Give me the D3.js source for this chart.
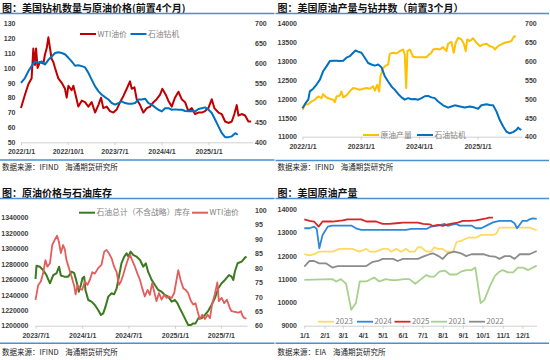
<!DOCTYPE html>
<html><head><meta charset="utf-8">
<script src="https://cdn.jsdelivr.net/npm/d3@7"></script>
<style>html,body{margin:0;padding:0;background:#fff;} svg{display:block;} text{white-space:pre;}</style>
</head><body>
<svg id="c" width="550" height="360"></svg>
<script>
// ---------- Panel 1: 美国钻机数量与原油价格(前置4个月) ----------
const p1Ticks = ["2022-01-01","2022-10-01","2023-07-01","2024-04-01","2025-01-01"];
const p1LeftTicks = [50,60,70,80,90,100,110,120,130];
const p1RightTicks = [400,450,500,550,600,650,700];
const p1Wti = [["2022-01-01",73],["2022-01-24",82],["2022-02-13",89],["2022-03-04",93],["2022-03-14",113],["2022-03-24",102],["2022-03-30",113],["2022-04-08",100],["2022-04-22",104],["2022-05-12",103],["2022-05-21",109],["2022-05-31",113],["2022-06-10",120.6],["2022-06-20",113],["2022-06-29",106],["2022-07-09",104],["2022-07-19",100],["2022-08-07",93],["2022-08-27",90],["2022-09-15",86],["2022-09-25",80],["2022-10-05",88],["2022-10-24",85],["2022-11-03",88],["2022-11-22",79],["2022-12-02",74],["2022-12-22",78],["2023-01-10",77],["2023-01-30",74],["2023-02-18",77],["2023-03-10",70],["2023-03-29",75],["2023-04-14",80],["2023-04-27",73],["2023-05-17",74],["2023-06-05",71],["2023-06-25",70],["2023-07-14",72],["2023-08-03",77],["2023-08-22",81],["2023-09-11",86],["2023-09-30",91],["2023-10-10",86],["2023-10-26",87],["2023-11-08",79],["2023-11-28",75],["2023-12-17",70],["2024-01-06",73],["2024-01-25",74],["2024-02-14",77],["2024-03-04",79],["2024-03-24",82],["2024-04-06",86],["2024-04-26",82],["2024-05-11",78],["2024-05-31",74],["2024-06-19",80],["2024-07-09",84],["2024-07-28",79],["2024-08-17",77],["2024-09-05",71],["2024-09-25",73],["2024-10-14",69],["2024-11-03",70],["2024-11-22",70],["2024-12-12",71],["2024-12-31",73],["2025-01-20",79],["2025-02-04",73],["2025-02-28",70],["2025-03-19",69],["2025-04-08",64],["2025-04-27",63],["2025-05-17",64],["2025-06-01",69],["2025-06-15",75],["2025-06-25",68],["2025-07-14",69],["2025-08-03",68],["2025-08-22",64],["2025-09-07",64]];
const p1Rigs = [["2022-01-01",550],["2022-01-24",562],["2022-02-13",579],["2022-03-04",592],["2022-03-24",604],["2022-04-12",600],["2022-05-02",604],["2022-05-21",596],["2022-06-10",608],["2022-06-29",616],["2022-07-19",625],["2022-08-07",627],["2022-08-27",625],["2022-09-15",622],["2022-10-05",613],["2022-10-24",604],["2022-11-13",593],["2022-12-02",594],["2022-12-22",592],["2023-01-10",589],["2023-01-30",575],["2023-02-18",558],["2023-03-10",541],["2023-03-29",529],["2023-04-18",520],["2023-05-07",514],["2023-05-27",508],["2023-06-15",499],["2023-07-05",495],["2023-07-24",499],["2023-08-13",503],["2023-09-01",499],["2023-09-21",497],["2023-10-10",497],["2023-10-30",499],["2023-11-18",508],["2023-12-08",508],["2023-12-27",510],["2024-01-16",499],["2024-02-04",495],["2024-02-24",488],["2024-03-14",482],["2024-04-03",478],["2024-04-22",486],["2024-05-12",486],["2024-05-31",482],["2024-06-20",483],["2024-07-09",482],["2024-07-29",482],["2024-08-17",479],["2024-09-06",478],["2024-09-25",479],["2024-10-15",478],["2024-11-03",484],["2024-11-23",486],["2024-12-12",488],["2025-01-01",482],["2025-01-20",474],["2025-02-09",457],["2025-02-28",440],["2025-03-20",423],["2025-04-08",413],["2025-04-28",413],["2025-05-17",415],["2025-06-06",423],["2025-06-21",419]];

// ---------- Panel 2: 美国原油产量与钻井数（前置3个月） ----------
const p2Ticks = ["2022-01-01","2023-01-01","2024-01-01","2025-01-01"];
const p2LeftTicks = [11000,11500,12000,12500,13000,13500,14000];
const p2RightTicks = [400,450,500,550,600,650,700];
const p2Output = [["2022-01-01",11710],["2022-01-16",11843],["2022-02-06",11861],["2022-02-26",11932],["2022-03-19",11976],["2022-04-09",12065],["2022-04-30",12021],["2022-05-10",12127],["2022-05-31",12038],["2022-06-21",12003],["2022-07-12",11976],["2022-07-22",11914],["2022-08-02",12065],["2022-08-23",12092],["2022-09-02",12198],["2022-09-13",12038],["2022-10-03",12092],["2022-10-24",12198],["2022-11-14",12287],["2022-12-05",12269],["2022-12-26",12243],["2023-01-16",12269],["2023-02-06",12287],["2023-02-26",12269],["2023-03-19",12331],["2023-03-30",12216],["2023-04-14",12376],["2023-04-26",12198],["2023-05-04",12598],["2023-05-21",12819],["2023-06-06",12882],["2023-06-21",12908],["2023-07-01",13192],["2023-07-22",13219],["2023-08-12",13201],["2023-09-02",13263],["2023-09-23",13308],["2023-10-03",13175],["2023-10-12",12287],["2023-10-20",13263],["2023-11-04",13308],["2023-11-25",13112],["2023-12-15",13104],["2024-01-05",13104],["2024-01-26",13104],["2024-02-16",13104],["2024-03-03",13175],["2024-03-18",13219],["2024-03-29",13308],["2024-04-18",13326],["2024-05-09",13308],["2024-05-30",13370],["2024-06-20",13263],["2024-06-30",13459],["2024-07-21",13512],["2024-08-05",13219],["2024-08-17",13485],["2024-09-01",13618],["2024-09-22",13574],["2024-10-07",13459],["2024-10-19",13263],["2024-10-28",13574],["2024-11-13",13530],["2024-12-04",13601],["2024-12-25",13485],["2025-01-15",13397],["2025-02-05",13441],["2025-02-26",13459],["2025-03-18",13397],["2025-04-08",13370],["2025-04-19",13308],["2025-05-09",13397],["2025-05-30",13441],["2025-06-20",13485],["2025-07-11",13503],["2025-08-01",13530],["2025-08-16",13645],["2025-08-28",13663]];
const p2Rigs = [["2022-01-01",475],["2022-01-16",486],["2022-02-06",498],["2022-02-16",520],["2022-03-09",527],["2022-03-30",538],["2022-04-20",551],["2022-05-10",573],["2022-05-31",586],["2022-06-21",600],["2022-07-12",601],["2022-08-02",601],["2022-08-23",600],["2022-09-13",601],["2022-10-03",609],["2022-10-24",613],["2022-11-14",622],["2022-11-29",628],["2022-12-15",625],["2023-01-05",622],["2023-01-26",609],["2023-02-16",595],["2023-03-09",591],["2023-03-30",588],["2023-04-20",591],["2023-05-10",584],["2023-05-31",560],["2023-06-21",546],["2023-07-12",533],["2023-08-02",524],["2023-08-23",513],["2023-09-13",504],["2023-10-03",498],["2023-10-24",502],["2023-11-14",499],["2023-12-05",500],["2023-12-26",498],["2024-01-16",502],["2024-02-05",507],["2024-02-26",508],["2024-03-18",504],["2024-04-08",502],["2024-04-29",493],["2024-05-30",483],["2024-06-30",477],["2024-07-21",480],["2024-08-11",483],["2024-09-12",480],["2024-10-13",477],["2024-11-13",480],["2024-12-14",477],["2025-01-04",474],["2025-01-25",483],["2025-02-26",486],["2025-03-18",484],["2025-04-08",483],["2025-04-29",467],["2025-05-20",444],["2025-06-10",427],["2025-07-01",413],["2025-07-22",409],["2025-08-11",412],["2025-09-01",418],["2025-09-12",424],["2025-09-22",420],["2025-10-02",418]];

// ---------- Panel 3: 原油价格与石油库存 ----------
const p3Ticks = ["2023-07-01","2024-01-01","2024-07-01","2025-01-01","2025-07-01"];
const p3LeftTicks = [1200000,1220000,1240000,1260000,1280000,1300000,1320000,1340000];
const p3RightTicks = [60,65,70,75,80,85,90,95,100];
const p3Stocks = [["2023-07-01",1260500],["2023-07-05",1277800],["2023-07-18",1276500],["2023-07-31",1272000],["2023-08-13",1265700],["2023-08-27",1255000],["2023-09-09",1265700],["2023-09-22",1268000],["2023-10-02",1276500],["2023-10-09",1265000],["2023-10-22",1263600],["2023-11-07",1263600],["2023-11-20",1270000],["2023-12-01",1268000],["2023-12-10",1257000],["2023-12-19",1244000],["2023-12-27",1252800],["2024-01-02",1261400],["2024-01-09",1263600],["2024-01-14",1246300],["2024-01-25",1233300],["2024-02-07",1231200],["2024-02-20",1226800],["2024-03-04",1220300],["2024-03-15",1213900],["2024-03-24",1216000],["2024-04-02",1224700],["2024-04-13",1237700],["2024-04-26",1242000],["2024-05-06",1240700],["2024-05-16",1248500],["2024-05-25",1263600],["2024-06-04",1280900],["2024-06-15",1289600],["2024-06-24",1293900],["2024-07-01",1289600],["2024-07-10",1296000],["2024-07-20",1291700],["2024-08-02",1289600],["2024-08-16",1285200],["2024-08-29",1276500],["2024-09-08",1280900],["2024-09-17",1270000],["2024-10-01",1259400],["2024-10-14",1252800],["2024-10-27",1246300],["2024-11-09",1244100],["2024-11-22",1239800],["2024-12-05",1237700],["2024-12-19",1231200],["2025-01-01",1233300],["2025-01-11",1229000],["2025-01-20",1222500],["2025-01-27",1218200],["2025-02-09",1209500],["2025-02-22",1200900],["2025-03-05",1200900],["2025-03-14",1203000],["2025-03-23",1203000],["2025-04-03",1209500],["2025-04-16",1209500],["2025-04-29",1213900],["2025-05-10",1218200],["2025-05-25",1226800],["2025-06-07",1235500],["2025-06-21",1248500],["2025-07-04",1255000],["2025-07-17",1259300],["2025-08-02",1265700],["2025-08-12",1263600],["2025-08-19",1259300],["2025-08-25",1270000],["2025-09-05",1280900],["2025-09-21",1283000],["2025-10-04",1288200],["2025-10-10",1289600]];
const p3Wti = [["2023-07-01",68.9],["2023-07-12",74.1],["2023-07-22",75.3],["2023-07-31",78.1],["2023-08-09",82.7],["2023-08-17",80.4],["2023-08-27",81.6],["2023-09-05",87.9],["2023-09-15",89.7],["2023-09-24",91.1],["2023-10-01",89.1],["2023-10-09",85.1],["2023-10-18",87.9],["2023-10-25",86.2],["2023-10-31",82.7],["2023-11-10",79.9],["2023-11-20",77.0],["2023-12-01",73.6],["2023-12-06",70.8],["2023-12-14",74.1],["2023-12-23",72.9],["2024-01-01",72.4],["2024-01-12",75.3],["2024-01-22",74.1],["2024-01-31",75.8],["2024-02-10",78.5],["2024-02-20",78.0],["2024-03-04",79.9],["2024-03-17",81.0],["2024-03-28",85.6],["2024-04-06",86.2],["2024-04-15",85.1],["2024-04-26",83.3],["2024-05-06",80.4],["2024-05-16",78.5],["2024-05-25",74.1],["2024-06-02",75.3],["2024-06-11",77.6],["2024-06-20",80.4],["2024-07-01",83.3],["2024-07-08",84.5],["2024-07-16",82.7],["2024-07-27",80.4],["2024-08-06",78.0],["2024-08-16",75.8],["2024-08-25",72.9],["2024-09-04",70.1],["2024-09-15",72.4],["2024-09-24",70.7],["2024-10-03",74.7],["2024-10-11",71.8],["2024-10-20",68.5],["2024-10-30",71.3],["2024-11-09",69.0],["2024-11-20",70.7],["2024-11-29",69.6],["2024-12-08",70.1],["2024-12-19",69.6],["2024-12-29",71.3],["2025-01-07",75.8],["2025-01-14",79.2],["2025-01-23",75.8],["2025-02-03",72.9],["2025-02-12",72.4],["2025-02-22",71.3],["2025-03-05",68.5],["2025-03-14",67.3],["2025-03-23",67.8],["2025-03-31",65.0],["2025-04-09",62.3],["2025-04-19",63.8],["2025-04-29",62.3],["2025-05-10",63.8],["2025-05-19",62.6],["2025-05-28",67.8],["2025-06-07",70.8],["2025-06-17",75.0],["2025-06-23",68.5],["2025-07-04",69.6],["2025-07-14",67.8],["2025-07-25",69.0],["2025-08-05",66.1],["2025-08-12",65.0],["2025-08-25",64.8],["2025-09-08",64.5],["2025-09-18",65.0],["2025-09-25",63.3],["2025-10-01",62.7],["2025-10-10",62.4]];

// ---------- Panel 4: 美国原油产量 (by year) ----------
const p4Ticks = ["01-01","02-01","03-01","04-01","05-01","06-01","07-01","08-01","09-01","10-01","11-01","12-01"];
const p4LeftTicks = [9000,10000,11000,12000,13000,14000];
const p4Years = ["2023","2024","2025","2021","2022"];
const p4_2023 = [["01-01",12070],["01-09",12020],["01-16",12070],["01-24",12180],["02-13",12180],["02-24",12300],["03-16",12300],["03-26",12180],["04-06",12300],["04-11",12180],["04-21",12180],["05-01",12300],["05-09",12300],["05-14",12180],["05-22",12300],["05-29",12180],["06-06",12300],["06-11",12180],["06-19",12180],["06-24",12370],["06-29",12370],["07-07",12180],["07-14",12180],["07-19",12370],["07-25",12300],["08-01",12300],["08-06",12180],["08-17",12180],["08-22",12585],["09-01",12680],["09-09",12780],["09-21",12780],["09-29",12900],["10-17",12900],["10-22",12950],["10-27",13210],["12-12",13210],["12-23",13100]];
const p4_2024 = [["01-01",13185],["01-09",13185],["01-16",13255],["01-20",13155],["01-24",12327],["01-29",12900],["02-06",13255],["02-13",13300],["03-14",13300],["03-21",13185],["03-29",13115],["04-16",13115],["05-11",13115],["06-06",13115],["06-14",13155],["07-07",13155],["07-14",13255],["07-25",13300],["08-04",13370],["08-09",13285],["08-14",13330],["08-22",13370],["08-27",13300],["09-14",13300],["09-21",13185],["09-29",13185],["10-07",13300],["10-17",13440],["10-27",13500],["11-14",13500],["11-19",13400],["11-23",13185],["12-01",13500],["12-08",13500],["12-12",13570],["12-17",13610],["12-23",13585]];
const p4_2025 = [["01-01",13570],["01-09",13500],["01-16",13475],["01-23",13255],["01-29",13475],["02-13",13475],["03-01",13520],["03-08",13570],["03-21",13570],["03-29",13570],["04-06",13475],["04-21",13475],["05-01",13370],["05-11",13370],["05-22",13400],["06-01",13430],["06-11",13430],["06-24",13430],["07-02",13370],["07-12",13355],["07-17",13285],["07-25",13330],["08-01",13285],["08-09",13355],["08-17",13400],["08-24",13430],["09-01",13500],["09-11",13500],["09-21",13520],["09-29",13570],["10-07",13610],["10-11",13640],["10-17",13640]];
const p4_2021 = [["01-01",10970],["02-13",11000],["02-19",10900],["02-26",11000],["03-06",10800],["03-14",9680],["03-21",9970],["03-27",10900],["04-06",10900],["04-18",11070],["04-26",10900],["05-06",11000],["05-14",10960],["05-22",10960],["06-03",11000],["06-11",11000],["06-20",10800],["06-29",11000],["07-07",11180],["07-12",11110],["07-19",11110],["07-27",11320],["08-04",11370],["08-12",11200],["08-22",11200],["08-29",11320],["09-06",11390],["09-14",11390],["09-20",11495],["09-28",9970],["10-04",10110],["10-12",10680],["10-20",11140],["10-27",11320],["11-01",11390],["11-09",11290],["11-17",11290],["11-24",11495],["12-02",11495],["12-10",11390],["12-23",11580]];
const p4_2022 = [["01-01",11540],["01-09",11780],["01-16",11780],["01-24",11680],["02-03",11680],["02-13",11495],["02-21",11560],["04-06",11560],["04-16",11745],["04-24",11780],["05-01",11870],["05-17",11870],["05-24",11780],["06-01",11870],["06-24",11870],["07-02",11970],["07-12",12070],["07-17",12110],["07-25",12000],["08-01",11870],["08-09",12110],["08-19",12180],["08-29",12110],["09-06",11990],["09-14",12070],["10-02",12070],["10-12",11990],["10-20",11970],["10-27",11870],["11-04",11990],["11-12",11990],["11-19",11870],["11-27",12070],["12-12",12070],["12-23",12210]];

// ================= drawing =================
const svg = d3.select("#c");
const parse = d3.timeParse("%Y-%m-%d");
const parseMD = d3.timeParse("%m-%d");
const NUM = "'Liberation Sans', Arial, sans-serif";
const CJK = "'Noto Sans CJK SC', 'Noto Sans', sans-serif";
const RULE = "#4a8fd2";
const LBL = "#404040";

function frame(x0, x1, title, titleY, topLineY, botLineY, source, sourceY) {
  svg.append("text").attr("x", x0 + 2).attr("y", titleY).text(title)
    .attr("font-family", CJK).attr("font-weight", "bold").attr("font-size", 10).attr("fill", "#111");
  svg.append("line").attr("x1", x0).attr("x2", x1).attr("y1", topLineY).attr("y2", topLineY)
    .attr("stroke", RULE).attr("stroke-width", 1.5);
  svg.append("line").attr("x1", x0).attr("x2", x1).attr("y1", botLineY).attr("y2", botLineY)
    .attr("stroke", RULE).attr("stroke-width", 1.5);
  svg.append("text").attr("x", x0 + 2).attr("y", sourceY).text(source)
    .attr("font-family", CJK).attr("font-size", 7.5).attr("fill", "#222")
    .style("white-space", "pre");
}

function xAxis(scale, y, ticks, fmt) {
  const g = svg.append("g").attr("transform", `translate(0,${y})`)
    .call(d3.axisBottom(scale).tickValues(ticks).tickFormat(fmt).tickSize(3).tickPadding(4).tickSizeOuter(0));
  g.select(".domain").attr("stroke", "#d0d0d0");
  g.selectAll(".tick line").attr("stroke", "#d0d0d0");
  g.selectAll("text").attr("font-family", NUM).attr("font-weight", "bold").attr("font-size", 7).attr("fill", LBL);
}

function yAxis(scale, x, ticks, side) {
  const ax = side === "left" ? d3.axisLeft(scale) : d3.axisRight(scale);
  const g = svg.append("g").attr("transform", `translate(${x},0)`)
    .call(ax.tickValues(ticks).tickSize(0).tickPadding(0).tickFormat(d3.format("d")));
  g.select(".domain").remove();
  g.selectAll("text").attr("font-family", NUM).attr("font-weight", "bold").attr("font-size", 7).attr("fill", LBL);
}

function drawLine(data, xs, ys, color, w, p) {
  const ln = d3.line().x(d => xs(p(d[0]))).y(d => ys(d[1]));
  svg.append("path").datum(data).attr("d", ln).attr("fill", "none")
    .attr("stroke", color).attr("stroke-width", w).attr("stroke-linejoin", "round");
}

function legendItem(x, y, color, label, w) {
  svg.append("line").attr("x1", x).attr("x2", x + 16).attr("y1", y).attr("y2", y)
    .attr("stroke", color).attr("stroke-width", w);
  svg.append("text").attr("x", x + 17.5).attr("y", y + 2.7).text(label)
    .attr("font-family", CJK).attr("font-size", 7.8).attr("fill", "#7f7f7f");
}

// ---- Panel 1 ----
frame(0, 274.5, "图：美国钻机数量与原油价格(前置4个月)", 11.5, 13.5, 160, "数据来源：IFIND\u00a0\u00a0\u00a0\u00a0海通期货研究所", 170);
{
  const x = d3.scaleTime().domain([parse("2022-01-01"), parse("2025-09-15")]).range([21, 252.5]);
  const yl = d3.scaleLinear().domain([50, 130]).range([142.3, 23.3]);
  const yr = d3.scaleLinear().domain([400, 700]).range([142.3, 23.3]);
  xAxis(x, 142.3, p1Ticks.map(parse), d3.timeFormat("%Y/%-m/%-d"));
  yAxis(yl, 15.5, p1LeftTicks, "left");
  yAxis(yr, 255, p1RightTicks, "right");
  drawLine(p1Wti, x, yl, "#c00000", 2, parse);
  drawLine(p1Rigs, x, yr, "#0070c0", 2, parse);
  legendItem(80, 34, "#c00000", "WTI油价", 2);
  legendItem(130.5, 34, "#0070c0", "石油钻机", 2);
}

// ---- Panel 2 ----
frame(275.5, 549, "图：美国原油产量与钻井数（前置3个月）", 11.5, 13.5, 160.5, "数据来源：IFIND\u00a0\u00a0\u00a0\u00a0海通期货研究所", 170);
{
  const x = d3.scaleTime().domain([parse("2022-01-01"), parse("2025-10-06")]).range([302.5, 522]);
  const yl = d3.scaleLinear().domain([11000, 14000]).range([136.7, 23.3]);
  const yr = d3.scaleLinear().domain([400, 700]).range([136.7, 23.3]);
  xAxis(x, 136.7, p2Ticks.map(parse), d3.timeFormat("%Y/%-m/%-d"));
  yAxis(yl, 297, p2LeftTicks, "left");
  yAxis(yr, 525, p2RightTicks, "right");
  drawLine(p2Output, x, yl, "#ffc000", 2, parse);
  drawLine(p2Rigs, x, yr, "#0070c0", 2, parse);
  legendItem(363, 135, "#ffc000", "原油产量", 2);
  legendItem(417, 135, "#0070c0", "石油钻机", 2);
}

// ---- Panel 3 ----
frame(0, 274.5, "图：原油价格与石油库存", 196.5, 198.5, 343.3, "数据来源：IFIND\u00a0\u00a0\u00a0\u00a0海通期货研究所", 355);
{
  const x = d3.scaleTime().domain([parse("2023-07-01"), parse("2025-10-12")]).range([35.5, 247]);
  const yl = d3.scaleLinear().domain([1200000, 1350000]).range([325.7, 210]);
  const yr = d3.scaleLinear().domain([60, 100]).range([325.7, 210]);
  xAxis(x, 325.7, p3Ticks.map(parse), d3.timeFormat("%Y/%-m/%-d"));
  yAxis(yl, 28.5, p3LeftTicks, "left");
  yAxis(yr, 255, p3RightTicks, "right");
  drawLine(p3Stocks, x, yl, "#3b7a1f", 2, parse);
  drawLine(p3Wti, x, yr, "#e35d5d", 1.8, parse);
  legendItem(79, 212.7, "#3b7a1f", "石油总计（不含战略）库存", 2);
  legendItem(192, 212.7, "#e35d5d", "WTI油价", 2);
}

// ---- Panel 4 ----
frame(275.5, 549, "图：美国原油产量", 196.5, 198.5, 343.3, "数据来源：EIA\u00a0\u00a0\u00a0\u00a0海通期货研究所", 355);
{
  const x = d3.scaleTime().domain([parseMD("01-01"), parseMD("12-23")]).range([304.3, 536.7]);
  const y = d3.scaleLinear().domain([9000, 14000]).range([325.7, 209.3]);
  xAxis(x, 325.7, p4Ticks.map(parseMD), d3.timeFormat("%-m/%-d"));
  yAxis(y, 297, p4LeftTicks, "left");
  const series = [p4_2023, p4_2024, p4_2025, p4_2021, p4_2022];
  const colors = ["#ffd966", "#2e88d8", "#d7262b", "#a9d18e", "#8c8c8c"];
  series.forEach((s, i) => drawLine(s, x, y, colors[i], 1.8, parseMD));
  const lx = [318, 357, 394.5, 431, 469];
  p4Years.forEach((yr, i) => legendItem(lx[i], 321.7, colors[i], yr, 1.8));
}
</script>
</body></html>
